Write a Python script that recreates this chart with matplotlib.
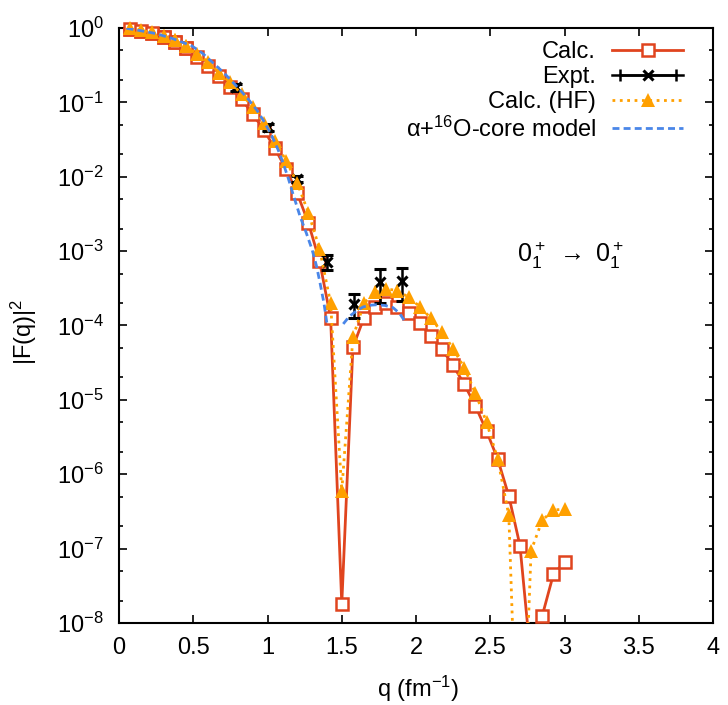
import numpy as np
import matplotlib
matplotlib.use('Agg')
import matplotlib.pyplot as plt
from matplotlib.lines import Line2D
from matplotlib.legend_handler import HandlerLine2D
from matplotlib.ticker import (LogLocator, NullFormatter, MultipleLocator, FormatStrFormatter,
                               FixedLocator)

plt.rcParams['font.family'] = ['Liberation Sans', 'DejaVu Sans']
plt.rcParams['font.size'] = 17
plt.rcParams['mathtext.fontset'] = 'custom'
plt.rcParams['mathtext.rm'] = 'Liberation Sans'
plt.rcParams['mathtext.it'] = 'Liberation Sans:italic'
plt.rcParams['mathtext.bf'] = 'Liberation Sans:bold'

# momentum transfer grid of the calculations (fm^-1)
q = [0.075, 0.15, 0.225, 0.3, 0.375, 0.45, 0.525, 0.6, 0.675, 0.75,
     0.825, 0.9, 0.975, 1.05, 1.125, 1.2, 1.275, 1.35, 1.425, 1.5,
     1.575, 1.65, 1.725, 1.8, 1.875, 1.95, 2.025, 2.1, 2.175, 2.25,
     2.325, 2.4, 2.475, 2.55, 2.625, 2.7, 2.775, 2.85, 2.925, 3.0]

calc = [0.97, 0.91, 0.85, 0.75, 0.64, 0.53, 0.41, 0.31, 0.226, 0.159,
        0.11, 0.070, 0.0425, 0.024, 0.0126, 0.006, 0.0024, 7.4e-4, 1.26e-4, 1.8e-8,
        5.1e-5, 1.28e-4, 1.8e-4, 2.0e-4, 1.76e-4, 1.46e-4, 1.07e-4, 7.3e-5, 4.8e-5, 2.9e-5,
        1.62e-5, 8.3e-6, 3.8e-6, 1.6e-6, 5.1e-7, 1.1e-7, 3e-9, 1.25e-8, 4.5e-8, 6.6e-8]

calc_hf = [1.0, 0.93, 0.87, 0.78, 0.68, 0.57, 0.45, 0.35, 0.25, 0.185,
           0.13, 0.086, 0.053, 0.030, 0.0165, 0.0082, 0.0033, 1.08e-3, 2.0e-4, 5.9e-7,
           6.9e-5, 2.0e-4, 2.8e-4, 3.1e-4, 2.95e-4, 2.4e-4, 1.8e-4, 1.25e-4, 8.1e-5, 4.9e-5,
           2.7e-5, 1.23e-5, 5.0e-6, 1.6e-6, 2.8e-7, 1e-11, 9.4e-8, 2.4e-7, 3.3e-7, 3.4e-7]

# experimental data
q_expt = [0.79, 1.0, 1.2, 1.4, 1.585, 1.757, 1.908]
expt = [0.16, 0.046, 0.0093, 7.2e-4, 1.95e-4, 3.9e-4, 4.0e-4]
expt_err = [0.016, 0.0045, 0.0009, 1.6e-4, 7e-5, 1.9e-4, 1.85e-4]

# alpha + 16O-core model (two branches around the zero)
q_core1 = [0.05, 0.12, 0.25, 0.37, 0.49, 0.56, 0.633, 0.71, 0.79, 0.86, 0.927, 0.98,
           1.03, 1.07, 1.104, 1.14, 1.17, 1.22, 1.26, 1.30, 1.33, 1.354, 1.38, 1.40]
core1 = [0.99, 0.94, 0.84, 0.71, 0.575, 0.46, 0.34, 0.245, 0.166, 0.117, 0.079, 0.054,
         0.035, 0.0234, 0.0155, 0.0095, 0.006, 0.0029, 0.00178, 0.00105, 0.00063, 0.00037, 0.0002, 0.000107]
q_core2 = [1.51, 1.55, 1.60, 1.645, 1.70, 1.735, 1.79, 1.845, 1.89, 1.93]
core2 = [1.05e-4, 1.32e-4, 1.58e-4, 1.78e-4, 1.88e-4, 1.9e-4, 1.86e-4, 1.74e-4, 1.45e-4, 1.1e-4]

y_ticks = [1e-8, 1e-7, 1e-6, 1e-5, 1e-4, 1e-3, 1e-2, 1e-1, 1]

c_red = '#e0441e'
c_orange = '#ffa000'
c_blue = '#4a86e8'

fig = plt.figure(figsize=(7.28, 7.05), dpi=100)
ax = fig.add_axes([0.1635, 0.1163, 0.8159, 0.844])

l_calc, = ax.plot(q, calc, '-', color=c_red, lw=2, marker='s', ms=8, mfc='white',
                  mec=c_red, mew=1.8, label='Calc.', zorder=3)
ax.errorbar(q_expt, expt, yerr=expt_err, fmt='x', color='black', ms=7, mew=2.2,
            elinewidth=1.8, capsize=4, capthick=1.8, zorder=4)
l_hf, = ax.plot(q, calc_hf, ':', color=c_orange, lw=2, marker='^', ms=9.5, mew=0,
                label='Calc. (HF)', zorder=5)
l_core, = ax.plot(q_core1, core1, color=c_blue, lw=2, dashes=(2.5, 1.5), zorder=6)
ax.plot(q_core2, core2, color=c_blue, lw=2, dashes=(2.5, 1.5), zorder=6)

# markers touching the top frame are not clipped
top = [i for i in range(len(q)) if calc_hf[i] > 0.5]
ax.plot([q[i] for i in top], [calc[i] for i in top], 's', ms=8, mfc='white', mec=c_red,
        mew=1.8, clip_on=False, zorder=3)
ax.plot([q[i] for i in top], [calc_hf[i] for i in top], '^', color=c_orange, ms=9.5, mew=0,
        clip_on=False, zorder=5)

ax.set_yscale('log')
ax.set_xlim(0, 4)
ax.set_ylim(1e-8, 1)
ax.xaxis.set_major_locator(MultipleLocator(0.5))
ax.xaxis.set_major_formatter(FormatStrFormatter('%g'))
ax.yaxis.set_major_locator(FixedLocator(y_ticks))
ax.yaxis.set_minor_locator(LogLocator(base=10, subs=(2, 5), numticks=20))
ax.yaxis.set_minor_formatter(NullFormatter())
ax.tick_params(which='both', direction='in', top=True, right=True, width=1.2)
ax.tick_params(which='major', length=5.5)
ax.tick_params(which='minor', length=3)
ax.tick_params(axis='x', pad=10)
ax.tick_params(axis='y', pad=11)
for s in ax.spines.values():
    s.set_linewidth(1.5)

ax.set_xlabel('q (fm$^{-1}$)')
ax.xaxis.set_label_coords(0.503, -0.085)
ax.set_ylabel('|F(q)|$^2$')
ax.yaxis.set_label_coords(-0.135, 0.49)

ax.text(0.759, 0.607, r'$0_1^+\ \rightarrow\ 0_1^+$', transform=ax.transAxes,
        ha='center', va='baseline', fontsize=18)

# gnuplot-like legend entry for the experimental points
cap_line = Line2D([], [], color='black', lw=1.8, marker='|', ms=9, mew=1.8)
x_line = Line2D([], [], color='black', lw=1.8, marker='x', ms=7, mew=2.2)
ax.legend([l_calc, (cap_line, x_line), l_hf, l_core],
          ['Calc.', 'Expt.', 'Calc. (HF)', 'α+$^{16}$O-core model'],
          handler_map={cap_line: HandlerLine2D(numpoints=2)},
          loc='upper right', bbox_to_anchor=(0.95, 0.978), frameon=False,
          markerfirst=False, handlelength=3.0, handletextpad=0.7,
          labelspacing=0.13, borderpad=0, borderaxespad=0)

fig.savefig('out.png', dpi=100)
